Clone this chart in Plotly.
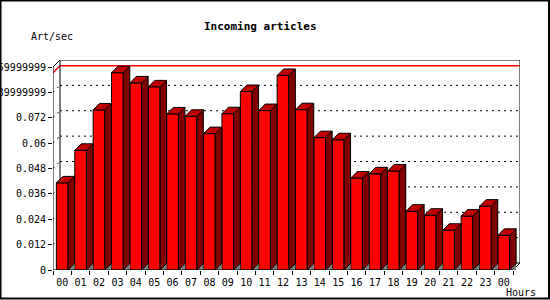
import plotly.graph_objects as go

# ---- data ----
hours = ["00", "01", "02", "03", "04", "05", "06", "07", "08", "09", "10", "11",
         "12", "13", "14", "15", "16", "17", "18", "19", "20", "21", "22", "23", "00"]
art_per_sec = [0.0412, 0.0566, 0.0757, 0.0933, 0.0885, 0.0866, 0.0738, 0.0727,
               0.0645, 0.0739, 0.0844, 0.0754, 0.0920, 0.0758, 0.0626, 0.0616,
               0.0435, 0.0455, 0.0468, 0.0278, 0.0259, 0.0188, 0.0255, 0.0302, 0.0164]
tick_vals = [0, 0.012, 0.024, 0.036, 0.048, 0.06, 0.072, 0.084, 0.096]
tick_text = ["0", "0.012", "0.024", "0.036", "0.048", "0.06", "0.072",
             "0.0839999999", "0.0959999999"]
title = "Incoming articles"
y_title = "Art/sec"
x_title = "Hours"

# ---- geometry / style ----
W, H = 550, 300
ML, MR, MT, MB = 53, 30, 60, 30
n = len(art_per_sec)
ymax = tick_vals[-1]
plot_w = W - ML - MR
plot_h = H - MT - MB
wall_px = 7
bar_px = 6.5
px_per_x = plot_w / (n + wall_px / 18.4)
xr_max = n - 0.5 + wall_px / px_per_x
ytop = ymax * plot_h / (plot_h - wall_px)
px_per_y = plot_h / ytop
dxw, dyw = wall_px / px_per_x, wall_px / px_per_y
dxb, dyb = bar_px / px_per_x, bar_px / px_per_y
bw = 0.636
hb = bw / 2

xs = list(range(n))

fig = go.Figure()

# floor shadows (gray triangles)
gx, gy = [], []
for i, v in enumerate(art_per_sec):
    r = i + hb
    gx += [r, r + dxb, r + dxb, r, None]
    gy += [0, dyb, 0, 0, None]
fig.add_trace(go.Scatter(x=gx, y=gy, mode="lines", fill="toself", fillcolor="#808080",
                         line=dict(width=0), hoverinfo="skip", showlegend=False))

# side faces
sx, sy = [], []
for i, v in enumerate(art_per_sec):
    r = i + hb
    sx += [r, r, r + dxb, r + dxb, r, None]
    sy += [0, v, v + dyb, dyb, 0, None]
fig.add_trace(go.Scatter(x=sx, y=sy, mode="lines", fill="toself", fillcolor="#800000",
                         line=dict(color="black", width=1), hoverinfo="skip", showlegend=False))

# top faces
tx, ty = [], []
for i, v in enumerate(art_per_sec):
    l, r = i - hb, i + hb
    tx += [l, l + dxb, r + dxb, r, l, None]
    ty += [v, v + dyb, v + dyb, v, v, None]
fig.add_trace(go.Scatter(x=tx, y=ty, mode="lines", fill="toself", fillcolor="#C00000",
                         line=dict(color="black", width=1), hoverinfo="skip", showlegend=False))

# front faces
fig.add_trace(go.Bar(x=xs, y=art_per_sec, width=bw, marker=dict(color="#FF0000",
                     line=dict(color="black", width=1)), showlegend=False))

shapes = []
L, R = -0.5, n - 0.5
dots = dict(color="black", width=1, dash="2px,4px")
# gridlines on back wall (dotted) + diagonal connectors
for tv in tick_vals[1:-1]:
    shapes.append(dict(type="line", xref="x", yref="y", x0=L + dxw, x1=R + dxw,
                       y0=tv + dyw, y1=tv + dyw, layer="below", line=dots))
    shapes.append(dict(type="line", xref="x", yref="y", x0=L, x1=L + dxw,
                       y0=tv, y1=tv + dyw, layer="below", line=dots))
# max line (red)
vmax = max(art_per_sec)
shapes.append(dict(type="line", xref="x", yref="y", x0=L + dxw, x1=R + dxw,
                   y0=vmax + dyw, y1=vmax + dyw, layer="below",
                   line=dict(color="#FF0000", width=1.5)))
shapes.append(dict(type="line", xref="x", yref="y", x0=L, x1=L + dxw,
                   y0=vmax, y1=vmax + dyw, layer="below",
                   line=dict(color="#FF0000", width=1.5)))
# wall frame
solid = dict(color="black", width=1)
for (x0, y0, x1, y1) in [
    (L + dxw, ymax + dyw, R + dxw, ymax + dyw),   # back top
    (L + dxw, dyw, L + dxw, ymax + dyw),          # back left
    (R + dxw, dyw, R + dxw, ymax + dyw),          # back right
    (L, ymax, L + dxw, ymax + dyw),               # top-left diagonal
    (R, 0, R + dxw, dyw),                         # bottom-right diagonal
    (L + dxw, dyw, R + dxw, dyw),                 # back floor
]:
    shapes.append(dict(type="line", xref="x", yref="y", x0=x0, y0=y0, x1=x1, y1=y1,
                       layer="below", line=solid))
# front axis and baseline
shapes.append(dict(type="line", xref="x", yref="y", x0=L, x1=L, y0=0, y1=ymax, line=solid))
shapes.append(dict(type="line", xref="x", yref="y", x0=L, x1=R, y0=0, y1=0, line=solid))
# outer image border
px2x = lambda p: (p - ML) / plot_w
px2y = lambda p: (H - MB - p) / plot_h
shapes.append(dict(type="rect", xref="paper", yref="paper",
                   x0=px2x(0.5), x1=px2x(W - 1), y0=px2y(0.5), y1=px2y(H - 1.5),
                   line=dict(color="black", width=2)))

mono = "DejaVu Sans Mono"
fig.update_layout(
    width=W, height=H,
    margin=dict(l=ML, r=MR, t=MT, b=MB, autoexpand=False),
    paper_bgcolor="white", plot_bgcolor="white",
    barmode="overlay",
    shapes=shapes,
    font=dict(family=mono, size=10, color="black"),
    xaxis=dict(range=[L, xr_max], tickvals=xs, ticktext=hours, ticks="",
               showgrid=False, zeroline=False, showline=False,
               ticklabelstandoff=5,
               tickfont=dict(family=mono, size=10, color="black"),
               minor=dict(ticks="outside", tick0=-0.5, dtick=1, ticklen=4,
                          tickcolor="black", showgrid=False)),
    yaxis=dict(range=[0, ytop], tickvals=tick_vals, ticktext=tick_text,
               ticks="outside", ticklen=4, tickcolor="black",
               showgrid=False, zeroline=False, showline=False,
               tickfont=dict(family=mono, size=10, color="black")),
    annotations=[
        dict(text="<b>" + title + "</b>", xref="paper", yref="paper",
             x=px2x(260), y=px2y(27), xanchor="center", yanchor="middle", showarrow=False,
             font=dict(family=mono, size=11, color="black")),
        dict(text=y_title, xref="paper", yref="paper", x=px2x(29), y=px2y(37),
             xanchor="left", yanchor="middle", showarrow=False, font=dict(family=mono, size=10)),
        dict(text=x_title, xref="paper", yref="paper", x=px2x(504), y=px2y(292),
             xanchor="left", yanchor="middle", showarrow=False, font=dict(family=mono, size=10)),
    ],
)

fig.write_html("out.html")
